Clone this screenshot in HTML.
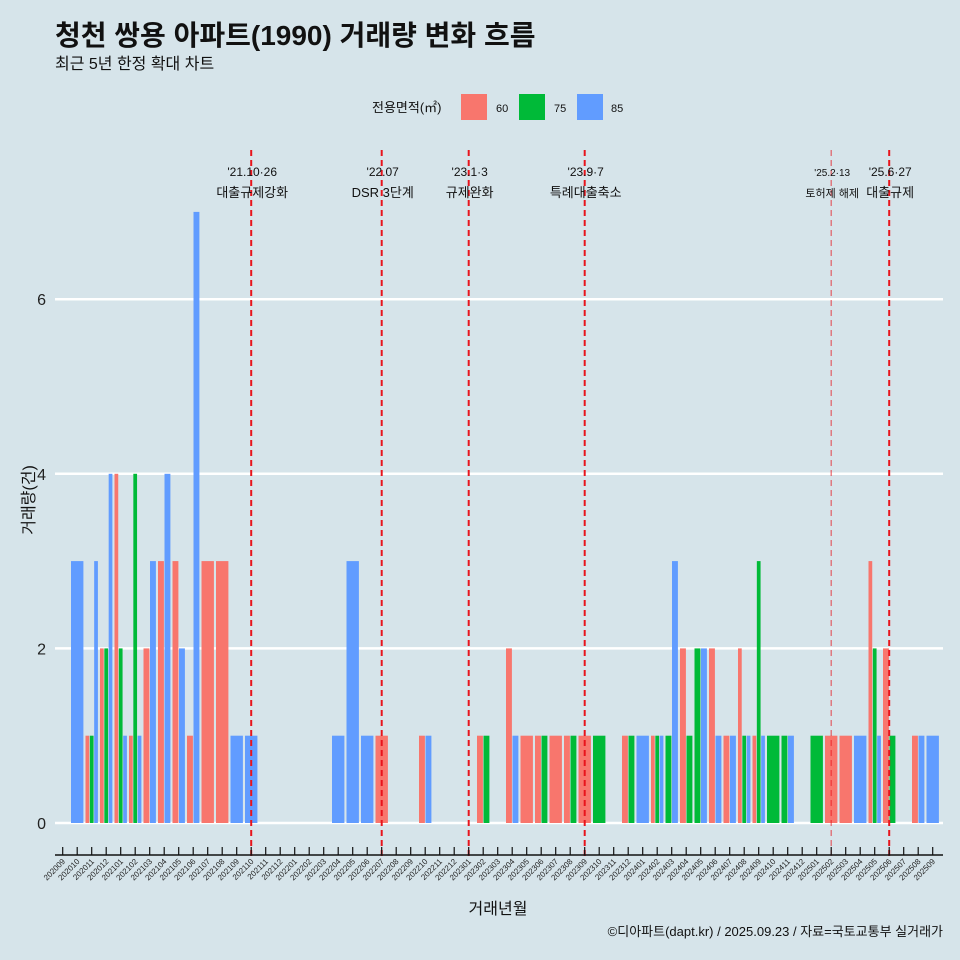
<!DOCTYPE html>
<html><head><meta charset="utf-8"><style>
body{margin:0;background:#d6e4ea;font-family:"Liberation Sans","Noto Sans CJK KR",sans-serif;overflow:hidden}
svg{display:block}
svg text{font-family:"Liberation Sans","Noto Sans CJK KR",sans-serif}
</style></head><body>
<svg id="c" width="960" height="960" xmlns="http://www.w3.org/2000/svg">
<rect width="960" height="960" fill="#d6e4ea"/>
<text x="55" y="45" font-size="28" font-weight="bold" fill="#111">청천 쌍용 아파트(1990) 거래량 변화 흐름</text>
<text x="55" y="69" font-size="16" fill="#111">최근 5년 한정 확대 차트</text>
<g>
<text x="372" y="112" font-size="13" fill="#111">전용면적(㎡)</text>
<rect x="461" y="94" width="26" height="26" fill="#f8766d"/>
<text x="496" y="112" font-size="11" fill="#111">60</text>
<rect x="519" y="94" width="26" height="26" fill="#00ba38"/>
<text x="554" y="112" font-size="11" fill="#111">75</text>
<rect x="577" y="94" width="26" height="26" fill="#619cff"/>
<text x="611" y="112" font-size="11" fill="#111">85</text>
</g>
<g id="grid"></g><g id="bars"></g><g id="vl"></g><g id="xa"></g>
<text transform="translate(34,500) rotate(-90)" text-anchor="middle" font-size="16" fill="#111">거래량(건)</text>
<text x="498" y="914" text-anchor="middle" font-size="16" fill="#111">거래년월</text>
<text x="943" y="936" text-anchor="end" font-size="13" fill="#111">©디아파트(dapt.kr) / 2025.09.23 / 자료=국토교통부 실거래가</text>
</svg>
<script>
const months=[];for(let y=2020,m=9;months.length<61;){months.push(y+String(m).padStart(2,'0'));m++;if(m>12){m=1;y++;}}
const v60={"202011":1,"202012":2,"202101":4,"202102":1,"202103":2,"202104":3,"202105":3,"202106":1,"202107":3,"202108":3,"202207":1,"202210":1,"202302":1,"202304":2,"202305":1,"202306":1,"202307":1,"202308":1,"202309":1,"202312":1,"202402":1,"202404":2,"202406":2,"202407":1,"202408":2,"202409":1,"202502":1,"202503":1,"202505":3,"202506":2,"202508":1};
const v75={"202011":1,"202012":2,"202101":2,"202102":4,"202302":1,"202306":1,"202308":1,"202310":1,"202312":1,"202402":1,"202403":1,"202404":1,"202405":2,"202408":1,"202409":3,"202410":1,"202411":1,"202501":1,"202505":2,"202506":1};
const v85={"202010":3,"202011":3,"202012":4,"202101":1,"202102":1,"202103":3,"202104":4,"202105":2,"202106":7,"202109":1,"202110":1,"202204":1,"202205":3,"202206":1,"202210":1,"202304":1,"202401":1,"202402":1,"202403":3,"202405":2,"202406":1,"202407":1,"202408":1,"202409":1,"202411":1,"202504":1,"202505":1,"202508":1,"202509":1};
const yTicks=[0,2,4,6];
const events=[{m:"202110",d:"'21.10·26",t:"대출규제강화",f:0},{m:"202207",d:"'22.07",t:"DSR 3단계",f:0},{m:"202301",d:"'23.1·3",t:"규제완화",f:0},{m:"202309",d:"'23.9·7",t:"특례대출축소",f:0},{m:"202502",d:"'25.2·13",t:"토허제 해제",f:1},{m:"202506",d:"'25.6·27",t:"대출규제",f:0}];
const NS="http://www.w3.org/2000/svg";
const X=i=>62.7+14.5*i, Y=v=>823-87.3*v;
function mk(p,tag,a){const e=document.createElementNS(NS,tag);for(const k in a)e.setAttribute(k,a[k]);p.appendChild(e);return e;}
const grid=document.getElementById('grid'),bars=document.getElementById('bars'),vl=document.getElementById('vl'),xa=document.getElementById('xa');
yTicks.forEach(t=>{const l=mk(grid,'line',{x1:55,x2:943,y1:Y(t),y2:Y(t),stroke:'#fff','stroke-width':2.5});


const tx=mk(grid,'text',{x:46,y:Y(t)+6,'text-anchor':'end','font-size':16,fill:'#222'});tx.textContent=t;

});
const series=[[v60,'#f8766d','60'],[v75,'#00ba38','75'],[v85,'#619cff','85']];
months.forEach((m,i)=>{const present=series.filter(s=>s[0][m]);const n=present.length;if(!n)return;const w=13/n;
present.forEach((s,k)=>{const x0=X(i)-6.5+k*w;const r=mk(bars,'rect',{x:x0+0.3,y:Y(s[0][m]),width:w-0.6,height:Y(0)-Y(s[0][m]),fill:s[1]});

});});
events.forEach(e=>{const i=months.indexOf(e.m);const x=X(i);
const l=mk(vl,'line',{x1:x,x2:x,y1:150,y2:856,stroke:'#e8141c','stroke-width':e.f?1.3:2,'stroke-dasharray':'6 4',opacity:e.f?0.6:1});


const fs=e.f?10:12;
const t1=mk(vl,'text',{x:x+1,y:176,'text-anchor':'middle','font-size':fs,fill:'#111'});t1.textContent=e.d;


const t2=mk(vl,'text',{x:x+1,y:197,'text-anchor':'middle','font-size':fs+1,fill:'#111'});t2.textContent=e.t;

});
const ax=mk(xa,'line',{x1:55,x2:943,y1:855,y2:855,stroke:'#111','stroke-width':1.5});


months.forEach((m,i)=>{const x=X(i);const tk=mk(xa,'line',{x1:x,x2:x,y1:847,y2:855,stroke:'#111','stroke-width':1.2});


const t=mk(xa,'text',{transform:`translate(${x+3},862) rotate(-45)`,'text-anchor':'end','font-size':8,fill:'#222'});t.textContent=m;

});
</script>
</body></html>
